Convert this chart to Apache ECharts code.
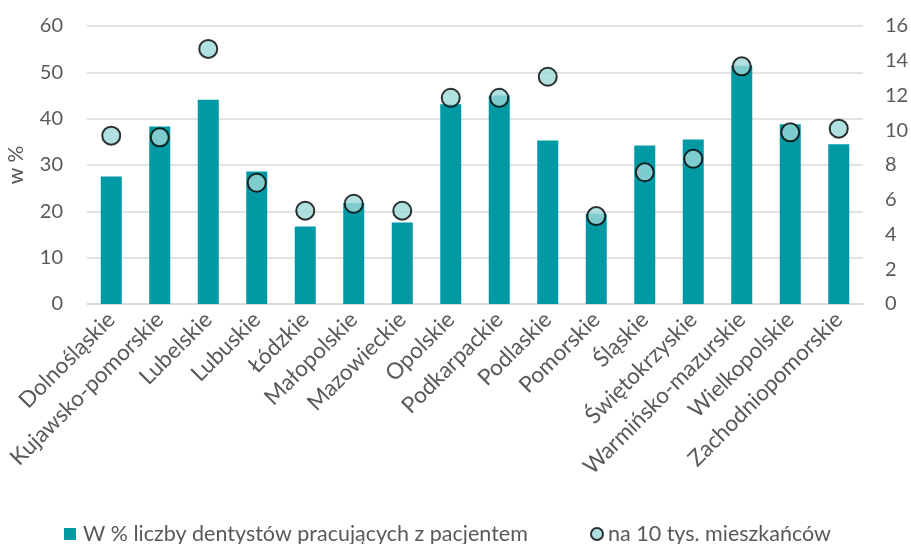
<!DOCTYPE html>
<html>
<head>
<meta charset="utf-8">
<script src="https://cdn.jsdelivr.net/npm/echarts@6/dist/echarts.min.js"></script>
<style>
html, body { margin: 0; padding: 0; background: #fff; }
#chart { width: 911px; height: 544px; }
</style>
</head>
<body>
<div id="chart"></div>
<script>
// województwa
var regions = ['Dolnośląskie', 'Kujawsko-pomorskie', 'Lubelskie', 'Lubuskie', 'Łódzkie',
    'Małopolskie', 'Mazowieckie', 'Opolskie', 'Podkarpackie', 'Podlaskie', 'Pomorskie',
    'Śląskie', 'Świętokrzyskie', 'Warmińsko-mazurskie', 'Wielkopolskie', 'Zachodniopomorskie'];
// W % liczby dentystów pracujących z pacjentem
var sharePct = [27.5, 38.3, 44.1, 28.6, 16.7, 21.8, 17.6, 43.1, 45.0, 35.3, 19.5, 34.2, 35.5, 51.4, 38.8, 34.5];
// na 10 tys. mieszkańców
var per10k = [9.69, 9.59, 14.68, 6.98, 5.37, 5.77, 5.37, 11.87, 11.87, 13.08, 5.06, 7.58, 8.36, 13.68, 9.88, 10.09];

var font = 'Lato, "Noto Sans", sans-serif';
var grey = '#595959';

var myChart = echarts.init(document.getElementById('chart'));
var option = {
    animation: false,
    textStyle: { fontFamily: font },
    grid: { left: 87, right: 48, top: 26, bottom: 240, outerBoundsMode: 'none', containLabel: false },
    legend: [{
        left: 64, top: 523, padding: 0,
        itemWidth: 12, itemHeight: 12,
        textStyle: { fontSize: 21.5, color: grey, fontFamily: font, padding: [0, 0, 0, 2] },
        data: [{ name: 'W % liczby dentystów pracujących z pacjentem', icon: 'rect' }]
    }, {
        left: 590, top: 523, padding: 0,
        itemWidth: 12, itemHeight: 12,
        textStyle: { fontSize: 21.5, color: grey, fontFamily: font },
        data: [{ name: 'na 10 tys. mieszkańców', icon: 'circle' }]
    }],
    xAxis: {
        type: 'category',
        data: regions,
        axisTick: { show: false },
        axisLine: { lineStyle: { color: '#d9d9d9', width: 1.5 } },
        axisLabel: { rotate: 45, fontSize: 22.5, color: grey, interval: 0, margin: 12 }
    },
    yAxis: [{
        type: 'value',
        min: 0, max: 60, interval: 10,
        name: 'w %',
        nameLocation: 'middle',
        nameGap: 60,
        nameTextStyle: { fontSize: 21, color: grey },
        axisLabel: { fontSize: 20, color: grey, margin: 24 },
        splitLine: { lineStyle: { color: '#d9d9d9', width: 1.5 } }
    }, {
        type: 'value',
        min: 0, max: 16, interval: 2,
        axisLabel: { fontSize: 20, color: grey, margin: 22 },
        splitLine: { show: false }
    }],
    series: [{
        name: 'W % liczby dentystów pracujących z pacjentem',
        type: 'bar',
        data: sharePct,
        barWidth: 21,
        itemStyle: { color: '#0099a4' }
    }, {
        name: 'na 10 tys. mieszkańców',
        type: 'scatter',
        yAxisIndex: 1,
        data: per10k,
        symbolSize: 18,
        itemStyle: { color: '#9ed8d8', borderColor: '#000', borderWidth: 2 }
    }]
};
myChart.setOption(option);
</script>
</body>
</html>
